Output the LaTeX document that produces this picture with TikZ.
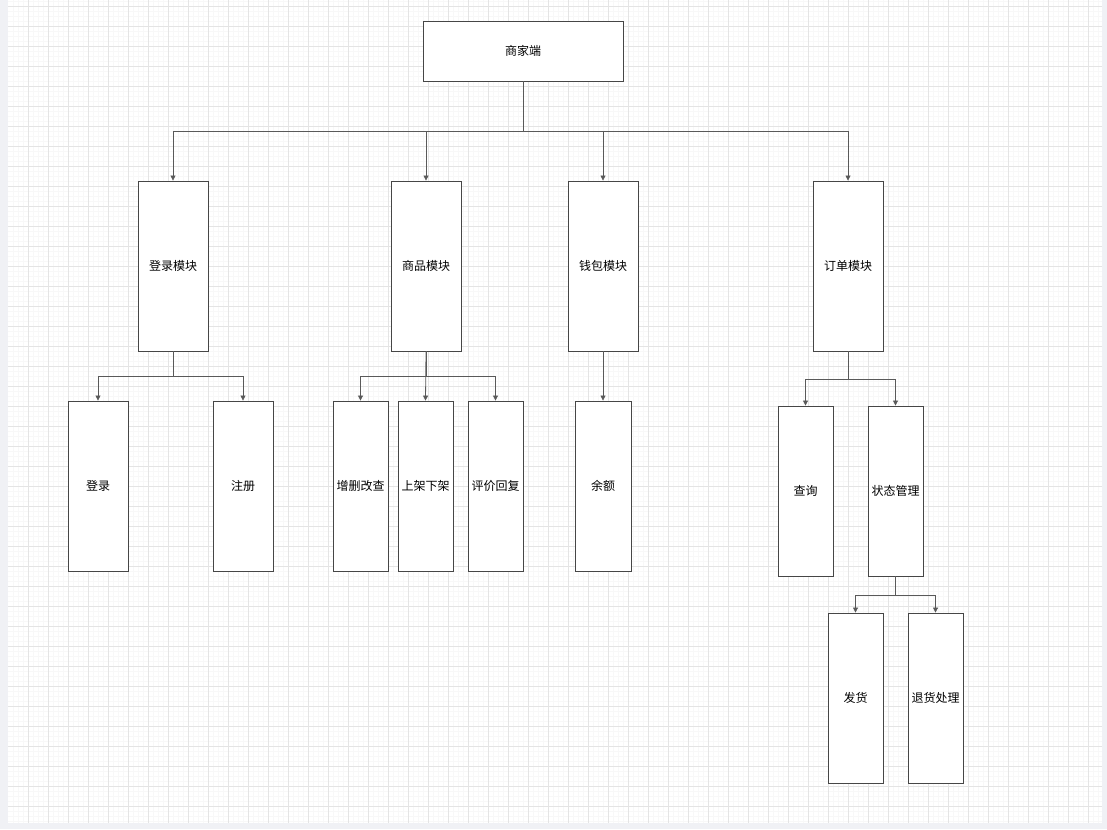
\documentclass[tikz,border=0pt]{standalone}
\usepackage{fontspec}
\newfontfamily\cjk{Noto Sans CJK SC}
\usetikzlibrary{arrows.meta}
\definecolor{pagegray}{RGB}{240,241,245}
\definecolor{gridminor}{RGB}{248,248,248}
\definecolor{gridmajor}{RGB}{228,228,228}
\definecolor{edgegray}{RGB}{70,70,70}

\begin{document}
\begin{tikzpicture}[x=1pt,y=-1pt,
    box/.style={draw=edgegray, line width=0.9pt, fill=white, minimum width=#1, inner sep=0pt, font=\cjk\fontsize{12}{14}\selectfont},
    tall/.style={box=#1, minimum height=170pt},
    link/.style={draw=black!65, line width=0.8pt, -{Triangle[length=5pt,width=5pt]}}]
       \useasboundingbox (0,0) rectangle (1107,829);
       \fill[pagegray] (0,0) rectangle (1107,829);
       \fill[white] (8,0) rectangle (1102,823);
       % grid
       \foreach \gx in {13,18,...,1101} \draw[gridminor, line width=0.5pt] (\gx,0) -- (\gx,823);
       \foreach \gy in {1,6,...,822} \draw[gridminor, line width=0.5pt] (8,\gy) -- (1102,\gy);
       \foreach \gx in {28,48,...,1101} \draw[gridmajor, line width=0.8pt] (\gx,0) -- (\gx,823);
       \foreach \gy in {6,26,...,822} \draw[gridmajor, line width=0.8pt] (8,\gy) -- (1102,\gy);

       \node[box=200pt, minimum height=60pt] (shop) at (523,51) {商家端};

       \node[tall=70pt] (login) at (173,266) {登录模块};
       \node[tall=70pt] (goods) at (426,266) {商品模块};
       \node[tall=70pt] (wallet) at (603,266) {钱包模块};
       \node[tall=70pt] (order) at (848,266) {订单模块};

       \node[tall=60pt] (signin) at (98,486) {登录};
       \node[tall=60pt] (signup) at (243,486) {注册};

       \node[tall=55pt] (crud) at (360.5,486) {增删改查};
       \node[tall=55pt] (shelf) at (425.5,486) {上架下架};
       \node[tall=55pt] (reply) at (495.5,486) {评价回复};

       \node[tall=56pt] (balance) at (603,486) {余额};

       \node[tall=55pt] (query) at (805.5,491) {查询};
       \node[tall=55pt] (state) at (895.5,491) {状态管理};

       \node[tall=55pt] (ship) at (855.5,698) {发货};
       \node[tall=55pt] (refund) at (935.5,698) {退货处理};

       \draw [link] (shop.south) -- ++(0,50) -| (login.north);
       \draw [link] (shop.south) -- ++(0,50) -| (goods.north);
       \draw [link] (shop.south) -- ++(0,50) -| (wallet.north);
       \draw [link] (shop.south) -- ++(0,50) -| (order.north);

       \draw [link] (login.south) -- ++(0,25) -| (signin.north);
       \draw [link] (login.south) -- ++(0,25) -| (signup.north);

       \draw [link] (goods.south) -- ++(0,25) -| (crud.north);
       \draw [link] (goods.south) -- (shelf.north);
       \draw [link] (goods.south) -- ++(0,25) -| (reply.north);

       \draw [link] (wallet.south) -- (balance.north);

       \draw [link] (order.south) -- ++(0,28) -| (query.north);
       \draw [link] (order.south) -- ++(0,28) -| (state.north);

       \draw [link] (state.south) -- ++(0,19) -| (ship.north);
       \draw [link] (state.south) -- ++(0,19) -| (refund.north);
    \end{tikzpicture}
\end{document}
